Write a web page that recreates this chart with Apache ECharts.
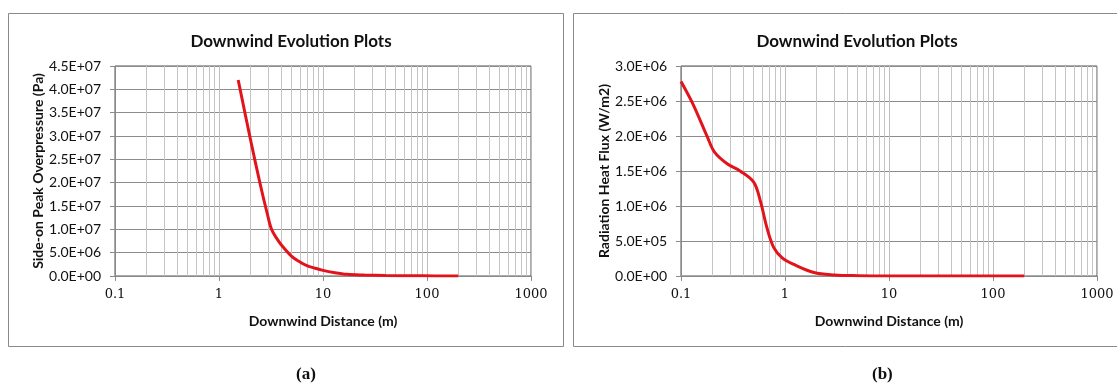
<!DOCTYPE html>
<html>
<head>
<meta charset="utf-8">
<script src="https://cdn.jsdelivr.net/npm/echarts@6/dist/echarts.min.js"></script>
<style>
  html, body { margin: 0; padding: 0; background: #fff; }
  #chart { width: 1117px; height: 392px; }
</style>
</head>
<body>
<div id="chart"></div>
<script>
// Downwind distance (m) and side-on peak overpressure (Pa)
const distA = [1.53, 2.0, 2.5, 2.9, 3.2, 3.6, 4.0, 5.0, 6.0, 7.0, 8.0, 10, 13, 17, 25, 40, 70, 120, 200];
const overpressure = [4.2e7, 2.94e7, 1.95e7, 1.35e7, 1.0e7, 8.0e6, 6.6e6, 4.2e6, 3.0e6, 2.2e6, 1.8e6, 1.2e6, 7e5, 3.5e5, 2e5, 9e4, 4e4, 2e4, 1e4];

// Downwind distance (m) and radiation heat flux (W/m2)
const distB = [0.1, 0.13, 0.18, 0.21, 0.28, 0.37, 0.5, 0.58, 0.67, 0.78, 0.94, 1.2, 1.9, 3, 5, 10, 50, 200];
const heatFlux = [2.78e6, 2.46e6, 1.98e6, 1.77e6, 1.6e6, 1.5e6, 1.34e6, 1.07e6, 6.9e5, 4.05e5, 2.6e5, 1.7e5, 5e4, 1.5e4, 5e3, 1e3, 100, 0];

// Axis ranges
const xRange = [0.1, 1000];
const yRangeA = [0, 4.5e7, 5e6];
const yRangeB = [0, 3.0e6, 5e5];

const chartTitle = 'Downwind Evolution Plots';
const xName = 'Downwind Distance (m)';
const yNameA = 'Side-on Peak Overpressure (Pa)';
const yNameB = 'Radiation Heat Flux (W/m2)';
const captions = ['(a)', '(b)'];

// Intermediate log gridlines (2..9 within each decade)
const minorGrid = [];
for (let d = xRange[0]; d < xRange[1]; d *= 10) {
  for (let k = 2; k <= 9; k++) minorGrid.push(+(d * k).toPrecision(3));
}

const SANS = 'Lato, "Open Sans", sans-serif';
const SERIF = '"DejaVu Serif", "Liberation Serif", serif';

function sci(v) {
  const s = v.toExponential(1).toUpperCase();
  return s.replace(/E([+-])(\d)$/, 'E$10$2');
}

function xAxisCfg(gridIndex) {
  return {
    type: 'log', logBase: 10, gridIndex,
    min: xRange[0], max: xRange[1],
    name: xName, nameLocation: 'middle', nameGap: 38,
    nameTextStyle: { fontFamily: SANS, fontWeight: 'bold', fontSize: 14, color: '#111' },
    axisLine: { onZero: false, lineStyle: { color: '#8a8a8a', width: 1 } },
    axisTick: { show: true, length: 5, inside: false, lineStyle: { color: '#8a8a8a' } },
    axisLabel: { fontFamily: SERIF, fontSize: 13, color: '#111', margin: 12,
      formatter: v => String(+v.toPrecision(3)) },
    splitLine: { show: true, lineStyle: { color: '#bdbdbd', width: 1 } },
    minorTick: { show: false }, minorSplitLine: { show: false }
  };
}

function yAxisCfg(gridIndex, range, name) {
  return {
    type: 'value', gridIndex,
    min: range[0], max: range[1], interval: range[2],
    name, nameLocation: 'middle', nameGap: 70, nameRotate: 90,
    nameTextStyle: { fontFamily: SANS, fontWeight: 'bold', fontSize: 14, color: '#111' },
    axisLine: { show: true, lineStyle: { color: '#8a8a8a', width: 1 } },
    axisTick: { show: true, length: 5, lineStyle: { color: '#8a8a8a' } },
    axisLabel: { fontFamily: SANS, fontSize: 14, color: '#111', margin: 14, formatter: sci },
    splitLine: { show: true, lineStyle: { color: '#8c8c8c', width: 1 } }
  };
}

function curve(xIdx, xs, ys) {
  return {
    type: 'line', xAxisIndex: xIdx, yAxisIndex: xIdx, z: 4,
    data: xs.map((x, i) => [x, ys[i]]),
    smooth: 0.35, showSymbol: false, symbol: 'none',
    lineStyle: { color: '#e3131b', width: 3 },
    markLine: {
      silent: true, symbol: 'none', z: 1, animation: false,
      label: { show: false },
      lineStyle: { color: '#c4c4c4', width: 1, type: 'solid' },
      data: minorGrid.map(v => ({ xAxis: v }))
    }
  };
}

const chart = echarts.init(document.getElementById('chart'), null, { renderer: 'canvas' });
chart.setOption({
  animation: false,
  backgroundColor: '#fff',
  title: [
    { text: chartTitle, left: 286, top: 28, textAlign: 'center',
      textStyle: { fontFamily: SANS, fontWeight: 'bold', fontSize: 17, color: '#111' } },
    { text: chartTitle, left: 852, top: 28, textAlign: 'center',
      textStyle: { fontFamily: SANS, fontWeight: 'bold', fontSize: 17, color: '#111' } }
  ],
  graphic: [
    { type: 'rect', shape: { x: 8.5, y: 13.5, width: 555, height: 333 }, z: -10,
      style: { fill: 'none', stroke: '#8a8a8a', lineWidth: 1 } },
    { type: 'rect', shape: { x: 573.5, y: 13.5, width: 560, height: 333 }, z: -10,
      style: { fill: 'none', stroke: '#8a8a8a', lineWidth: 1 } },
    { type: 'text', left: 296, top: 366,
      style: { text: captions[0], font: 'bold 17px "Liberation Serif", serif', fill: '#111' } },
    { type: 'text', left: 872, top: 366,
      style: { text: captions[1], font: 'bold 17px "Liberation Serif", serif', fill: '#111' } }
  ],
  grid: [
    { left: 115, top: 66, width: 416, height: 210, show: true, borderColor: '#555', borderWidth: 1, backgroundColor: 'transparent' },
    { left: 681, top: 66, width: 416, height: 210, show: true, borderColor: '#555', borderWidth: 1, backgroundColor: 'transparent' }
  ],
  xAxis: [xAxisCfg(0), xAxisCfg(1)],
  yAxis: [yAxisCfg(0, yRangeA, yNameA), yAxisCfg(1, yRangeB, yNameB)],
  series: [curve(0, distA, overpressure), curve(1, distB, heatFlux)]
});
</script>
</body>
</html>
